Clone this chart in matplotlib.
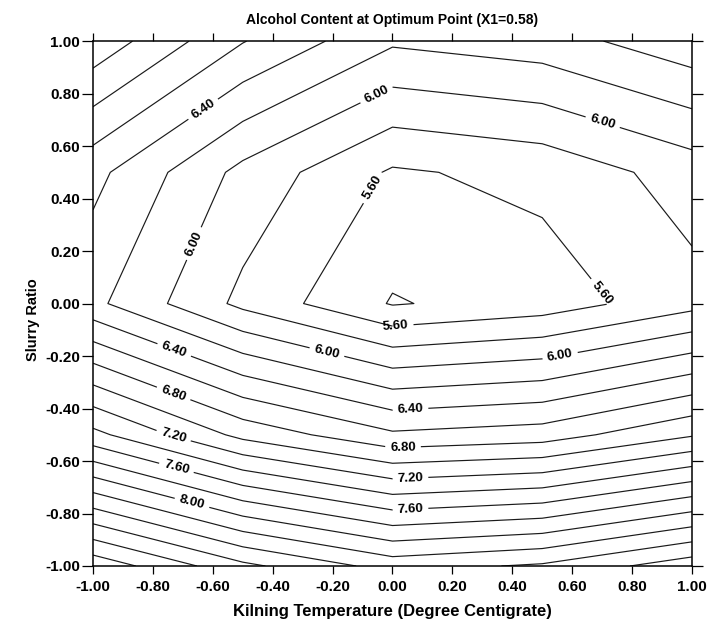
import matplotlib
matplotlib.use("Agg")
import matplotlib.pyplot as plt
import numpy as np

# Grid coordinates (coded factor levels)
x_vals = [-1.0, -0.5, 0.0, 0.5, 1.0]
y_vals = [-1.0, -0.5, 0.0, 0.5, 1.0]

# Alcohol content on the grid (rows = slurry ratio, cols = kilning temperature)
z_row_m1 = [9.14, 8.65, 8.32, 8.43, 8.72]
z_row_m05 = [7.46, 6.94, 6.634, 6.70, 6.98]
z_row_0 = [6.25, 5.747, 5.385, 5.49, 5.73]
z_row_05 = [6.46, 5.94, 5.574, 5.658, 5.89]
z_row_1 = [7.14, 6.61, 6.23, 6.31, 6.53]

levels = [5.4, 5.6, 5.8, 6.0, 6.2, 6.4, 6.6, 6.8, 7.0, 7.2, 7.4, 7.6, 7.8,
          8.0, 8.2, 8.4, 8.6, 8.8, 9.0]
label_levels = [5.6, 6.0, 6.4, 6.8, 7.2, 7.6, 8.0]
label_positions = [(-0.63, 0.737), (-0.05, 0.787), (0.70, 0.684), (-0.065, 0.44),
                   (-0.666, 0.23), (0.70, 0.04), (0.01, -0.074), (-0.73, -0.18),
                   (-0.22, -0.19), (0.56, -0.20), (0.06, -0.40), (-0.73, -0.34),
                   (0.035, -0.547), (-0.73, -0.50), (0.06, -0.665), (-0.72, -0.62),
                   (0.06, -0.78), (-0.665, -0.74)]
xticks = [-1.0, -0.8, -0.6, -0.4, -0.2, 0.0, 0.2, 0.4, 0.6, 0.8, 1.0]
yticks = [-1.0, -0.8, -0.6, -0.4, -0.2, 0.0, 0.2, 0.4, 0.6, 0.8, 1.0]

plt.rcParams['font.family'] = ['Liberation Sans', 'DejaVu Sans']

Z = np.array([z_row_m1, z_row_m05, z_row_0, z_row_05, z_row_1])
X, Y = np.meshgrid(x_vals, y_vals)

fig = plt.figure(figsize=(7.10, 6.23), dpi=100)
ax = fig.add_axes([0.131, 0.0915, 0.8436, 0.8425])

plain_levels = [lv for lv in levels if lv not in label_levels]
line_col = '#1a1a1a'
ax.contour(X, Y, Z, levels=plain_levels, colors=line_col, linewidths=0.85)
cs_lab = ax.contour(X, Y, Z, levels=label_levels, colors=line_col, linewidths=0.85)
lbls = ax.clabel(cs_lab, manual=label_positions, fmt='%.2f',
                 fontsize=9.5, inline=True, inline_spacing=5)
for t in lbls:
    t.set_fontweight('bold')
    t.set_color('black')

ax.set_xlim(-1, 1)
ax.set_ylim(-1, 1)
ax.set_xticks(xticks)
ax.set_yticks(yticks)
ax.set_xticklabels([f"{v:.2f}" for v in xticks], fontweight='bold', fontsize=11)
ax.set_yticklabels([f"{v:.2f}" for v in yticks], fontweight='bold', fontsize=11)
ax.tick_params(axis='x', direction='out', length=6, width=0.9, top=True,
               labeltop=False, pad=4)
ax.tick_params(axis='y', direction='out', length=8, width=0.9, right=True,
               labelright=False, pad=1.5)
for s in ax.spines.values():
    s.set_linewidth(1.1)

ax.set_title("Alcohol Content at Optimum Point (X1=0.58)", fontweight='bold',
             fontsize=10, pad=12)
ax.set_xlabel("Kilning Temperature (Degree Centigrate)", fontweight='bold',
              fontsize=12, labelpad=7)
ax.set_ylabel("Slurry Ratio", fontweight='bold', fontsize=10.5)
ax.yaxis.set_label_coords(-0.088, 0.47)

fig.savefig("out.png", dpi=100)
